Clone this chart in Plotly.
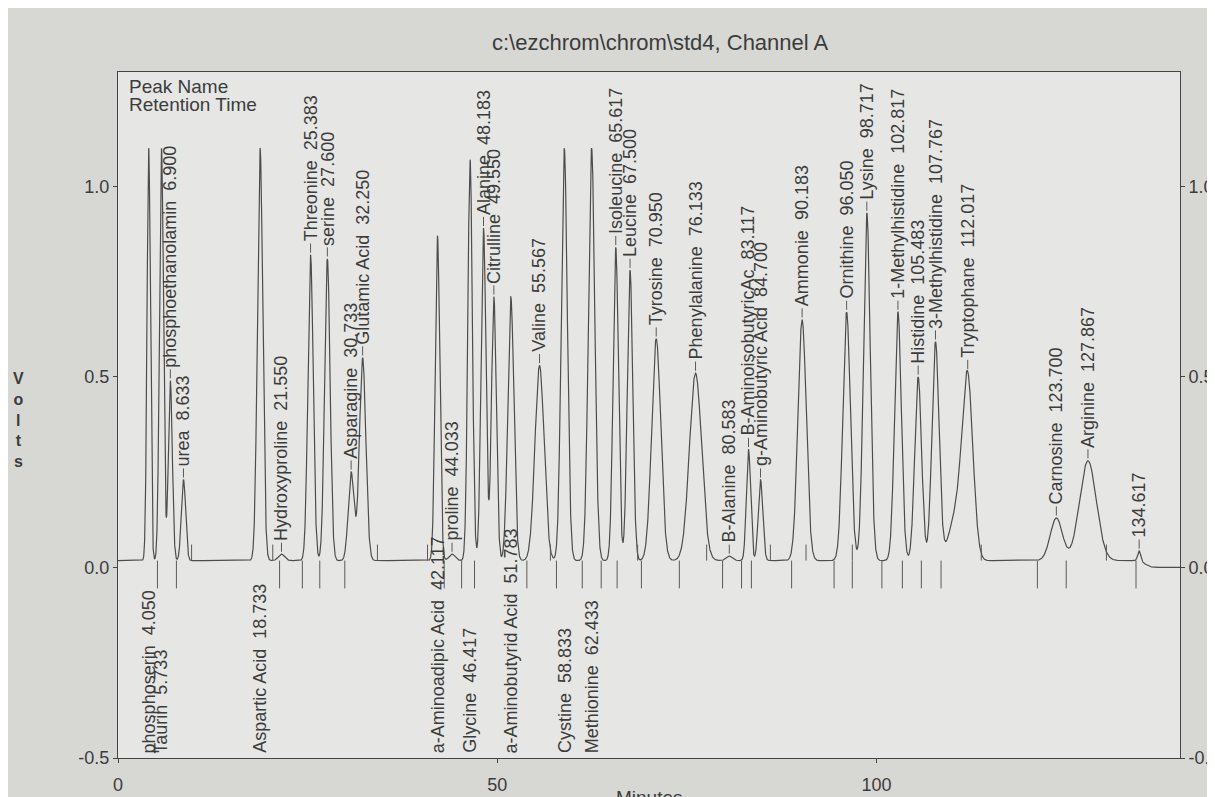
import numpy as np
import plotly.graph_objects as go

# ---------------- data ----------------
peak_names = ["phosphoserin", "Taurin", "phosphoethanolamin", "urea", "Aspartic Acid",
              "Hydroxyproline", "Threonine", "serine", "Asparagine", "Glutamic Acid",
              "a-Aminoadipic Acid", "proline", "Glycine", "Alanine", "Citrulline",
              "a-Aminobutyrid Acid", "Valine", "Cystine", "Methionine", "Isoleucine",
              "Leucine", "Tyrosine", "Phenylalanine", "B-Alanine", "B-AminoisobutyricAc",
              "g-Aminobutyric Acid", "Ammonie", "Ornithine", "Lysine", "1-Methylhistidine",
              "Histidine", "3-Methylhistidine", "", "Tryptophane", "Carnosine",
              "Arginine", ""]
retention_times = [4.050, 5.733, 6.900, 8.633, 18.733,
                   21.550, 25.383, 27.600, 30.733, 32.250,
                   42.117, 44.033, 46.417, 48.183, 49.550,
                   51.783, 55.567, 58.833, 62.433, 65.617,
                   67.500, 70.950, 76.133, 80.583, 83.117,
                   84.700, 90.183, 96.050, 98.717, 102.817,
                   105.483, 107.767, 110.600, 112.017, 123.700,
                   127.867, 134.617]
peak_heights = [1.10, 1.10, 0.49, 0.23, 1.10,
                0.035, 0.82, 0.81, 0.25, 0.55,
                0.87, 0.035, 1.07, 0.89, 0.71,
                0.71, 0.53, 1.10, 1.10, 0.84,
                0.78, 0.60, 0.51, 0.03, 0.31,
                0.23, 0.65, 0.67, 0.93, 0.67,
                0.50, 0.59, 0.14, 0.47, 0.13,
                0.28, 0.045]
peak_sigmas = [0.22, 0.26, 0.26, 0.28, 0.35,
               0.40, 0.35, 0.36, 0.38, 0.42,
               0.30, 0.40, 0.30, 0.32, 0.32,
               0.40, 0.60, 0.40, 0.42, 0.35,
               0.36, 0.60, 0.80, 0.40, 0.28,
               0.30, 0.55, 0.50, 0.45, 0.45,
               0.45, 0.47, 1.00, 0.70, 0.80,
               1.10, 0.20]
label_sides = ["below", "below", "above", "above", "below",
               "above", "above", "above", "above", "above",
               "below", "above", "below", "above", "above",
               "below", "above", "below", "below", "above",
               "above", "above", "above", "above", "above",
               "above", "above", "above", "above", "above",
               "above", "above", "none", "above", "above",
               "above", "above"]

baseline_level = 0.018
baseline_end_time = 135.4
end_level = 0.0

# integration boundary markers (minutes)
drop_marks = [5.2, 7.7, 21.3, 24.3, 26.6, 29.9, 43.0, 45.3, 47.0, 53.9, 57.8, 61.2,
              63.7, 65.8, 69.0, 74.0, 79.7, 82.2, 83.5, 88.8, 94.4, 96.8, 100.7,
              103.4, 105.9, 108.5, 121.2, 125.0, 134.2]
rise_marks = [9.7, 20.4, 34.2, 40.8, 57.0, 68.5, 77.6, 86.0, 90.7, 96.8, 113.8, 130.3]

x_ticks = [0, 50, 100]
y_ticks = [-0.5, 0.0, 0.5, 1.0]
y_tick_text = ["-0.5", "0.0", "0.5", "1.0"]

title_text = "c:\\ezchrom\\chrom\\std4, Channel A"

# ---------------- build the detector signal ----------------
t = np.linspace(0, 140, 14001)
base = end_level + (baseline_level - end_level) / (1 + np.exp((t - baseline_end_time) / 0.35))
signal = base.copy()
for rt, h, s in zip(retention_times, peak_heights, peak_sigmas):
    signal += (h - baseline_level) * np.exp(-0.5 * ((t - rt) / s) ** 2)

FONT = "Liberation Sans, Arial, Helvetica, sans-serif"
INK = "#3c3c3c"

fig = go.Figure()
fig.add_trace(go.Scatter(x=t, y=signal, mode="lines",
                         line=dict(color="#4d4d4d", width=1.2),
                         hoverinfo="skip", showlegend=False))

# boundary markers and leader lines
mx, my = [], []
for m in drop_marks:
    mx += [m, m, None]
    my += [baseline_level, -0.055, None]
for m in rise_marks:
    mx += [m, m, None]
    my += [baseline_level, 0.06, None]

annotations = []
for name, rt, side in zip(peak_names, retention_times, label_sides):
    if side == "none":
        continue
    label = (name + "\u00a0\u00a0" if name else "") + f"{rt:.3f}"
    if side == "above":
        top = float(np.interp(rt, t, signal))
        mx += [rt, rt, None]
        my += [top + 0.006, top + 0.03, None]
        annotations.append(dict(x=rt, y=top + 0.032, xref="x", yref="y", text=label,
                                textangle=-90, showarrow=False, xanchor="center",
                                yanchor="bottom", borderpad=0,
                                font=dict(family=FONT, size=18, color=INK)))
    else:
        annotations.append(dict(x=rt, y=-0.49, xref="x", yref="y", text=label,
                                textangle=-90, showarrow=False, xanchor="center",
                                yanchor="bottom", borderpad=0,
                                font=dict(family=FONT, size=18, color=INK)))

fig.add_trace(go.Scatter(x=mx, y=my, mode="lines",
                         line=dict(color="#5a5a5a", width=1),
                         hoverinfo="skip", showlegend=False))

# invisible trace to carry the right-hand axis
fig.add_trace(go.Scatter(x=[0, 140], y=[-0.5, 1.3], yaxis="y2", mode="lines",
                         line=dict(width=0), opacity=0, hoverinfo="skip",
                         showlegend=False))

annotations += [
    dict(x=0.5104, y=1.0437, xref="paper", yref="paper", text=title_text,
         showarrow=False, xanchor="center", yanchor="middle",
         font=dict(family=FONT, size=22, color=INK)),
    dict(x=0.009, y=0.995, xref="paper", yref="paper", text="Peak Name",
         showarrow=False, xanchor="left", yanchor="top", borderpad=0,
         font=dict(family=FONT, size=19, color=INK)),
    dict(x=0.009, y=0.969, xref="paper", yref="paper", text="Retention Time",
         showarrow=False, xanchor="left", yanchor="top", borderpad=0,
         font=dict(family=FONT, size=19, color=INK)),
    dict(x=-0.094, y=0.493, xref="paper", yref="paper", text="<b>V<br>o<br>l<br>t<br>s</b>",
         showarrow=False, xanchor="center", yanchor="middle",
         font=dict(family=FONT, size=16, color=INK)),
    dict(x=0.50, y=-0.040, xref="paper", yref="paper", text="Minutes",
         showarrow=False, xanchor="center", yanchor="top",
         font=dict(family=FONT, size=19, color=INK)),
]

# the page adds an 8px body margin; size the figure so the plot lands where the
# reference has it
fig.update_layout(
    width=1207, height=789,
    margin=dict(l=110, r=35, t=64, b=39, autoexpand=False),
    paper_bgcolor="#d7d8d4",
    plot_bgcolor="#e6e7e4",
    showlegend=False,
    annotations=annotations,
    xaxis=dict(range=[0, 140], tickvals=x_ticks, ticks="outside", ticklen=4,
               showline=True, linecolor="#444", linewidth=1.3, mirror=True,
               showgrid=False, zeroline=False, ticklabelstandoff=6,
               automargin=False,
               tickfont=dict(family=FONT, size=18, color=INK)),
    yaxis=dict(range=[-0.5, 1.3], tickvals=y_ticks, ticktext=y_tick_text,
               ticks="outside", ticklen=4, showline=True, linecolor="#444",
               linewidth=1.3, mirror=True, showgrid=False, zeroline=False,
               automargin=False,
               tickfont=dict(family=FONT, size=18, color=INK)),
    yaxis2=dict(range=[-0.5, 1.3], tickvals=y_ticks, ticktext=y_tick_text,
                overlaying="y", side="right", ticks="outside", ticklen=4,
                showline=False, showgrid=False, zeroline=False,
                automargin=False,
                tickfont=dict(family=FONT, size=18, color=INK)),
)

fig.write_html("out.html")
